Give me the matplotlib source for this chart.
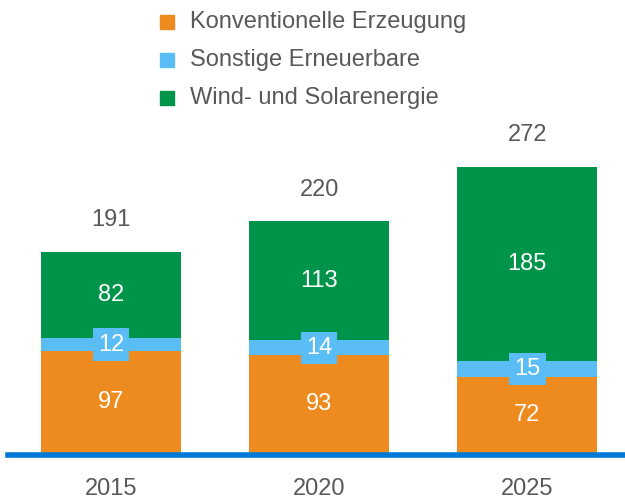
import matplotlib.pyplot as plt
from matplotlib.patches import Rectangle

plt.rcParams['font.family'] = ['Liberation Sans', 'DejaVu Sans']

years = ['2015', '2020', '2025']
konventionell = [97, 93, 72]
sonstige = [12, 14, 15]
wind_solar = [82, 113, 185]
totals = [191, 220, 272]
series_names = ['Konventionelle Erzeugung', 'Sonstige Erneuerbare', 'Wind- und Solarenergie']
colors = ['#EE8B1F', '#5BBDF5', '#00944A']
gray = '#595959'
fs = 17

fig = plt.figure(figsize=(6.25, 4.99), dpi=100)
ax = fig.add_axes([8 / 625, 46 / 499, 617 / 625, 453 / 499])

x = list(range(len(years)))
w = 0.673
bottom2 = [a + b for a, b in zip(konventionell, sonstige)]
ax.bar(x, konventionell, w, color=colors[0])
ax.bar(x, sonstige, w, bottom=konventionell, color=colors[1])
ax.bar(x, wind_solar, w, bottom=bottom2, color=colors[2])

for i in x:
    ax.text(i, konventionell[i] / 2, str(konventionell[i]), ha='center', va='center',
            color='white', fontsize=fs)
    ax.text(i, konventionell[i] + sonstige[i] / 2, str(sonstige[i]), ha='center', va='center',
            color='white', fontsize=fs,
            bbox=dict(boxstyle='square,pad=0.22', fc=colors[1], ec='none'))
    ax.text(i, bottom2[i] + wind_solar[i] / 2, str(wind_solar[i]), ha='center', va='center',
            color='white', fontsize=fs)
    ax.text(i, totals[i] + 30, str(totals[i]), ha='center', va='center',
            color=gray, fontsize=fs)
    ax.text(i, -34, years[i], ha='center', va='center', color=gray, fontsize=fs)

ax.axhline(-2, color='#0078D7', lw=4, clip_on=False)
ax.set_xlim(-0.495, 2.47)
ax.set_ylim(0, 453 / 1.053)
ax.axis('off')

# legend
for k, name in enumerate(series_names):
    yy = 1 - (22 + 38 * k) / 499
    fig.patches.append(Rectangle((160 / 625, yy - 7 / 499), 14 / 625, 14 / 499,
                                 transform=fig.transFigure, color=colors[k]))
    fig.text(190 / 625, yy, name, ha='left', va='center', color=gray, fontsize=fs)

fig.savefig('out.png')
